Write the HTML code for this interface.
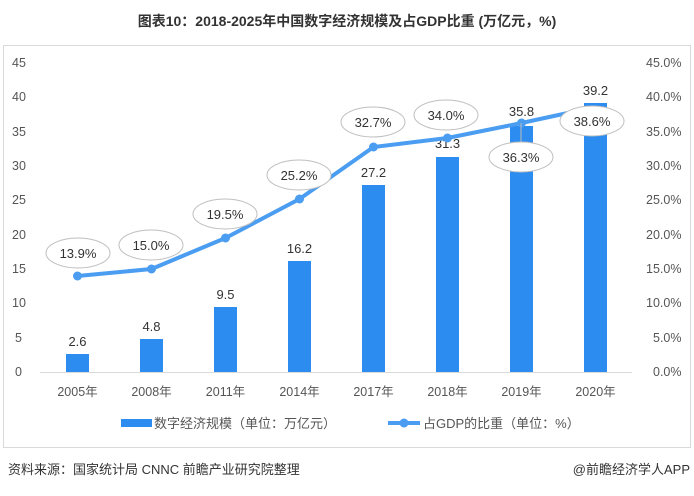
<!DOCTYPE html>
<html><head><meta charset="utf-8"><style>
body{margin:0;background:#fff;width:694px;height:491px;overflow:hidden}
svg text{font-family:"Liberation Sans","Noto Sans CJK SC",sans-serif}
</style></head><body>
<svg width="694" height="491" viewBox="0 0 694 491">
<text x="347" y="26" text-anchor="middle" font-size="14" font-weight="bold" fill="#333">图表10：2018-2025年中国数字经济规模及占GDP比重 (万亿元，%)</text>
<rect x="3.5" y="45.5" width="687" height="402" fill="none" stroke="#d9d9d9"/>
<g font-size="12.5" fill="#555">
<text x="12" y="67">45</text><text x="12" y="101">40</text><text x="12" y="136">35</text><text x="12" y="170">30</text><text x="12" y="204">25</text><text x="12" y="239">20</text><text x="12" y="273">15</text><text x="12" y="307">10</text><text x="15" y="342">5</text><text x="15" y="376">0</text>
<text x="646" y="67">45.0%</text><text x="646" y="101">40.0%</text><text x="646" y="136">35.0%</text><text x="646" y="170">30.0%</text><text x="646" y="204">25.0%</text><text x="646" y="239">20.0%</text><text x="646" y="273">15.0%</text><text x="646" y="307">10.0%</text><text x="653" y="342">5.0%</text><text x="653" y="376">0.0%</text>
</g>
<line x1="40" y1="372.5" x2="632" y2="372.5" stroke="#d9d9d9"/>
<g fill="#2d8cf0">
<rect x="66" y="354" width="23" height="18"/>
<rect x="140" y="339" width="23" height="33"/>
<rect x="214" y="307" width="23" height="65"/>
<rect x="288" y="261" width="23" height="111"/>
<rect x="362" y="185" width="23" height="187"/>
<rect x="436" y="157" width="23" height="215"/>
<rect x="510" y="126" width="23" height="246"/>
<rect x="584" y="103" width="23" height="269"/>
</g>
<g font-size="13" fill="#333" text-anchor="middle">
<text x="77.5" y="346">2.6</text><text x="151.5" y="331">4.8</text><text x="225.5" y="299">9.5</text><text x="299.5" y="253">16.2</text><text x="373.5" y="177">27.2</text><text x="447.5" y="148">31.3</text><text x="521.5" y="116">35.8</text><text x="595.5" y="95">39.2</text>
</g>
<polyline points="77.5,276 151.5,269 225.5,238 299.5,199 373.5,147 447.5,138 521.5,123 595.5,107" fill="none" stroke="#4a9df0" stroke-width="4" stroke-linejoin="round"/>
<g fill="#4a9df0"><circle cx="77.5" cy="276" r="4.5"/><circle cx="151.5" cy="269" r="4.5"/><circle cx="225.5" cy="238" r="4.5"/><circle cx="299.5" cy="199" r="4.5"/><circle cx="373.5" cy="147" r="4.5"/><circle cx="447.5" cy="138" r="4.5"/><circle cx="521.5" cy="123" r="4.5"/></g>
<line x1="521" y1="123" x2="521" y2="142" stroke="#bbb"/>
<g fill="#fff" stroke="#bfbfbf" stroke-width="1">
<ellipse cx="78" cy="253" rx="32" ry="15"/><ellipse cx="151" cy="245" rx="32" ry="15"/><ellipse cx="225" cy="214" rx="32" ry="15"/><ellipse cx="299" cy="175" rx="32" ry="15"/><ellipse cx="373" cy="122" rx="32" ry="15"/><ellipse cx="446" cy="115" rx="32" ry="15"/><ellipse cx="521" cy="157" rx="32" ry="15"/><ellipse cx="592" cy="121" rx="32" ry="15"/>
</g>
<g font-size="13" fill="#333" text-anchor="middle">
<text x="78" y="258">13.9%</text><text x="151" y="250">15.0%</text><text x="225" y="219">19.5%</text><text x="299" y="180">25.2%</text><text x="373" y="127">32.7%</text><text x="446" y="120">34.0%</text><text x="521" y="162">36.3%</text><text x="592" y="126">38.6%</text>
</g>
<g font-size="12.5" fill="#555" text-anchor="middle">
<text x="77.5" y="396">2005年</text><text x="151.5" y="396">2008年</text><text x="225.5" y="396">2011年</text><text x="299.5" y="396">2014年</text><text x="373.5" y="396">2017年</text><text x="447.5" y="396">2018年</text><text x="521.5" y="396">2019年</text><text x="595.5" y="396">2020年</text>
</g>
<rect x="121" y="419" width="31" height="8" fill="#2d8cf0"/>
<text x="154" y="428" font-size="13" fill="#555">数字经济规模（单位：万亿元）</text>
<line x1="388" y1="423" x2="420" y2="423" stroke="#4a9df0" stroke-width="4"/>
<circle cx="404" cy="423" r="4.5" fill="#4a9df0"/>
<text x="423" y="428" font-size="13" fill="#555">占GDP的比重（单位：%）</text>
<text x="8" y="474" font-size="13" fill="#333">资料来源：国家统计局 CNNC 前瞻产业研究院整理</text>
<text x="690" y="474" font-size="13" fill="#333" text-anchor="end">@前瞻经济学人APP</text>
</svg>
</body></html>
